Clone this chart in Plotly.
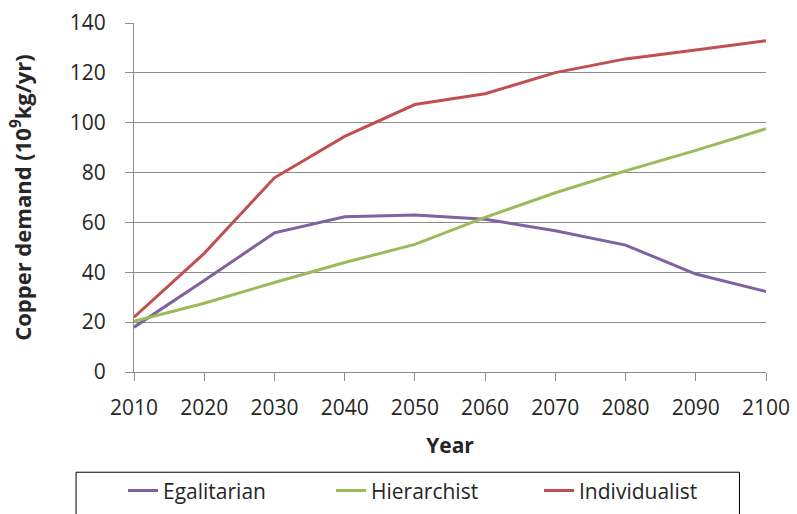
import plotly.graph_objects as go

# Copper demand scenarios, 2010-2100 (10^9 kg per year)
years = [2010, 2020, 2030, 2040, 2050, 2060, 2070, 2080, 2090, 2100]
egalitarian = [18.0, 36.7, 55.8, 62.3, 63.0, 61.3, 56.7, 50.9, 39.3, 32.3]
hierarchist = [20.3, 27.6, 35.9, 43.9, 51.2, 62.0, 71.9, 80.7, 88.9, 97.6]
individualist = [22.0, 47.6, 77.9, 94.5, 107.3, 111.6, 120.1, 125.6, 129.2, 132.9]

series = [
    ("Egalitarian", egalitarian, "#7E62A1"),
    ("Hierarchist", hierarchist, "#9BBB59"),
    ("Individualist", individualist, "#C0504D"),
]

y_ticks = [0, 20, 40, 60, 80, 100, 120, 140]

fig = go.Figure()
for name, vals, color in series:
    fig.add_trace(go.Scatter(
        x=years, y=vals, name=name, mode="lines",
        line=dict(color=color, width=3),
    ))

font_family = "Open Sans"
grid = "#8C8C8C"

fig.update_layout(
    width=797, height=514,
    margin=dict(l=134, r=30.5, t=22.7, b=141.7, autoexpand=False),
    plot_bgcolor="white", paper_bgcolor="white",
    font=dict(family=font_family, size=21, color="#262626"),
    showlegend=True,
    legend=dict(
        orientation="h",
        x=-0.0174, xanchor="left",
        y=-0.282, yanchor="top",
        borderwidth=0,
        bgcolor="rgba(0,0,0,0)",
        font=dict(size=21, color="#262626"),
        entrywidth=163, entrywidthmode="pixels",
        traceorder="normal",
    ),
    # frame around the legend
    shapes=[dict(
        type="rect", xref="paper", yref="paper",
        x0=-0.0917, x1=0.958, y0=-0.4225, y1=-0.2872,
        line=dict(color="#000000", width=1),
        fillcolor="rgba(0,0,0,0)", layer="below",
    )],
    xaxis=dict(
        range=[2010, 2100],
        tickvals=years,
        ticktext=[str(y) for y in years],
        showgrid=False,
        zeroline=False,
        showline=True, linecolor=grid, linewidth=1,
        ticks="outside", ticklen=8, tickcolor=grid, tickwidth=1,
        ticklabelstandoff=9,
        tickfont=dict(size=21),
        title=dict(text="<b>Year</b>", font=dict(size=21), standoff=18),
    ),
    yaxis=dict(
        range=[0, 140],
        tickvals=y_ticks,
        showgrid=True, gridcolor=grid, gridwidth=1,
        zeroline=False,
        showline=True, linecolor=grid, linewidth=1,
        ticks="outside", ticklen=8, tickcolor=grid, tickwidth=1,
        ticklabelstandoff=15,
        tickfont=dict(size=21),
        title=dict(text="<b>Copper demand (10<sup>9</sup>kg/yr)</b>",
                   font=dict(size=22), standoff=32),
    ),
)

fig.write_html("out.html")
